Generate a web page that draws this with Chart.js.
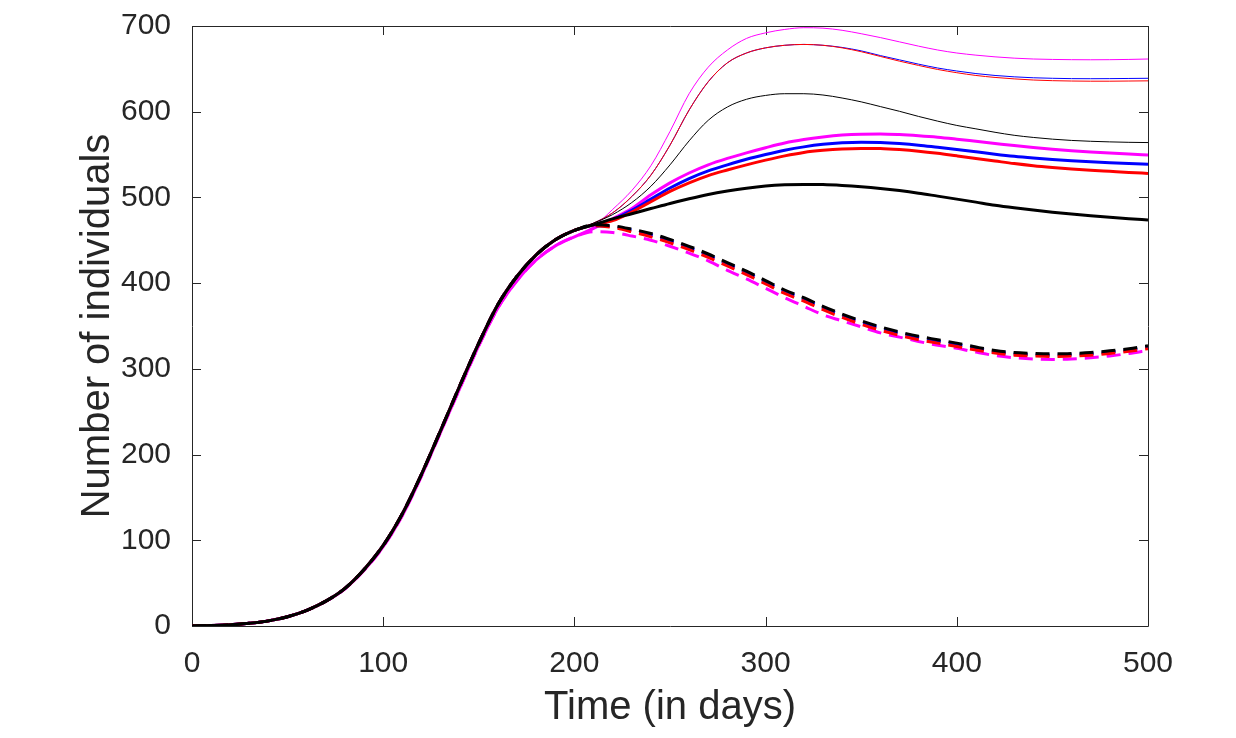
<!DOCTYPE html>
<html>
<head>
<meta charset="utf-8">
<script src="https://cdn.jsdelivr.net/npm/chart.js@4.4.1/dist/chart.umd.min.js"></script>
<style>
	html, body { margin: 0; padding: 0; background: #ffffff; }
	#wrap { width: 1236px; height: 738px; position: relative; }
</style>
</head>
<body>
<div id="wrap"><canvas id="population"></canvas></div>
<script>
// time axis, one point every 10 days
const days = [
	0, 10, 20, 30, 40, 50, 60, 70, 80, 90, 100, 110, 120, 130, 140, 150, 160, 170, 180, 190, 200,
	210, 220, 230, 240, 250, 260, 270, 280, 290, 300, 310, 320, 330, 340, 350, 360, 370, 380, 390, 400,
	410, 420, 430, 440, 450, 460, 470, 480, 490, 500,
];
const xTicks = [0, 100, 200, 300, 400, 500];
const yTicks = [0, 100, 200, 300, 400, 500, 600, 700];

// shared growth phase, days 0-200
const growth = [0, 0.5, 1.4, 3.1, 6, 10.8, 18.3, 29, 44, 66, 94, 131, 177, 228, 280, 330, 375, 408, 433, 450.5, 461.5];
const growthMagenta = [0, 0.5, 1.4, 3.1, 6, 10.8, 18.3, 28.8, 43.5, 65, 92.5, 129, 175, 226, 277, 327, 371, 403, 427, 443.5, 454];

// days 210-500
const thickBlack = [468, 475, 481, 487, 493, 498.5, 503.5, 507.5, 510.8, 513.3, 514.7, 515.2, 515, 514, 512.5, 510.5, 508, 505, 501.5, 498, 494.5, 491, 488, 485.3, 482.8, 480.6, 478.6, 476.8, 475.2, 473.8];
const thickRed = [468, 473, 483, 495, 507, 517, 525.5, 532, 538, 543.5, 548.5, 552.5, 555, 556.6, 557.2, 557, 555.8, 554, 551.5, 548.5, 545.5, 542.5, 539.5, 537, 535, 533.3, 531.8, 530.5, 529.2, 528];
const thickBlue = [468, 474, 485, 498, 511, 522, 531, 538, 544.5, 550, 555, 559, 562, 563.8, 564.5, 564, 562.8, 561, 558.5, 556, 553.3, 550.5, 548, 546, 544.3, 542.8, 541.5, 540.4, 539.5, 538.7];
const thickMagenta = [464, 475, 487, 503, 517, 528.5, 538, 545.5, 552, 558, 563.5, 567.5, 570.5, 572.7, 573.8, 574, 573.3, 572, 570.3, 568, 565.5, 563, 560.5, 558.2, 556.2, 554.5, 553, 551.7, 550.6, 549.6];

const thinBlack = [470, 480, 494, 513, 538, 566, 590, 605.5, 614.5, 619, 621, 621, 619.5, 616, 611.5, 606, 600.5, 594.5, 589, 584, 580, 576, 572.5, 570, 568, 566.5, 565.5, 564.8, 564.3, 564];
const thinRed = [470, 482, 501, 526, 561, 602, 635, 657, 668.5, 674.5, 677.5, 678.5, 677.5, 674.5, 670, 664.5, 659, 654, 649.3, 645.5, 642.3, 640, 638.3, 637, 636.2, 635.8, 635.6, 635.6, 635.8, 636];
const thinBlue = [470, 482, 501, 526, 561, 602, 635, 657, 668.5, 674.5, 677.5, 678.5, 677.5, 675, 671, 665.5, 660.5, 655.5, 651, 647.5, 644.5, 642.3, 640.7, 639.6, 639, 638.6, 638.5, 638.6, 638.8, 639];
const thinMagenta = [466, 486, 508, 537, 577, 621, 652, 672, 685.5, 692, 696, 698, 697.5, 695, 691, 686.5, 681.5, 676.5, 672, 668.5, 666, 664, 662.5, 661.5, 661, 660.7, 660.6, 660.7, 661, 661.5];

const dashBlack = [468, 467, 463, 458, 451, 443, 434, 424, 414, 403, 392, 383, 373, 364, 356, 349, 343, 338, 334, 330, 325.5, 321.5, 319, 318, 317.5, 318, 319, 321, 323.5, 327];
const dashBlue = [467, 466, 462, 456.5, 449.5, 441.5, 432.5, 422.5, 412.5, 401.5, 390.5, 381.5, 371.5, 362.5, 354.5, 347.5, 341.5, 336.5, 332.5, 328.5, 324, 320, 317.5, 316.5, 316, 316.5, 317.5, 319.5, 322, 325.5];
const dashRed = [467, 465, 460, 454, 447, 439, 430, 420, 410, 399, 388, 379, 369, 360, 352, 345, 339, 334, 330, 326, 322, 318.5, 316, 315, 314.5, 315, 316, 318, 320.5, 323.5];
const dashMagenta = [460, 459, 455, 450, 443, 435, 426, 415, 405, 394, 383, 373, 363, 356, 349, 342, 337, 332, 327.5, 324, 319.5, 315.5, 313, 311.5, 311, 311.5, 313, 315, 318, 321.5];

function points(head, tail) {
	return head.concat(tail).map((v, i) => ({ x: days[i], y: v }));
}

function line(head, tail, color, width, dash) {
	return {
		data: points(head, tail),
		borderColor: color,
		borderWidth: width,
		borderDash: dash || [],
		pointRadius: 0,
		fill: false,
		cubicInterpolationMode: 'monotone',
	};
}

const axisColor = '#262626';
const fontFamily = '"Liberation Sans", Arial, Helvetica, sans-serif';

// box round the plot with MATLAB style inward ticks
const boxTicks = {
	id: 'boxTicks',
	beforeDatasetsDraw(chart) {
		const { ctx, chartArea: a, scales } = chart;
		const len = 9;
		ctx.save();
		ctx.strokeStyle = axisColor;
		ctx.lineWidth = 1;
		ctx.beginPath();
		ctx.rect(a.left + 0.5, a.top + 0.5, a.right - a.left, a.bottom - a.top);
		xTicks.forEach((t) => {
			const px = Math.round(scales.x.getPixelForValue(t)) + 0.5;
			ctx.moveTo(px, a.bottom);
			ctx.lineTo(px, a.bottom - len);
			ctx.moveTo(px, a.top);
			ctx.lineTo(px, a.top + len);
		});
		yTicks.forEach((t) => {
			const py = Math.round(scales.y.getPixelForValue(t)) + 0.5;
			ctx.moveTo(a.left, py);
			ctx.lineTo(a.left + len, py);
			ctx.moveTo(a.right, py);
			ctx.lineTo(a.right - len, py);
		});
		ctx.stroke();
		ctx.restore();
	},
};

new Chart(document.getElementById('population'), {
	type: 'line',
	data: {
		datasets: [
			line(growth, thickBlack, '#000000', 3),
			line(growth, dashBlack, '#000000', 3, [14, 8]),
			line(growth, thinBlack, '#000000', 1),
			line(growth, thickRed, '#ff0000', 3),
			line(growth, dashRed, '#ff0000', 3, [14, 8]),
			line(growth, thinRed, '#ff0000', 1),
			line(growth, thickBlue, '#0000ff', 3),
			line(growth, dashBlue, '#0000ff', 3, [14, 8]),
			line(growth, thinBlue, '#0000ff', 1),
			line(growthMagenta, thickMagenta, '#ff00ff', 3),
			line(growthMagenta, dashMagenta, '#ff00ff', 3, [14, 8]),
			line(growthMagenta, thinMagenta, '#ff00ff', 1),
		],
	},
	options: {
		responsive: true,
		maintainAspectRatio: false,
		animation: false,
		layout: { padding: { top: 26, right: 88, left: 0, bottom: 0 } },
		plugins: {
			legend: { display: false },
			tooltip: { enabled: false },
		},
		scales: {
			x: {
				type: 'linear',
				min: 0,
				max: 500,
				afterFit: (scale) => {
					scale.height = 112;
					scale.paddingLeft = 0;
					scale.paddingRight = 0;
				},
				afterBuildTicks: (scale) => { scale.ticks = xTicks.map((v) => ({ value: v })); },
				grid: { display: false },
				border: { display: false },
				ticks: {
					color: axisColor,
					padding: 12,
					maxRotation: 0,
					font: { family: fontFamily, size: 30 },
				},
				title: {
					display: true,
					text: 'Time (in days)',
					color: axisColor,
					padding: { top: 0, bottom: 6 },
					font: { family: fontFamily, size: 40 },
				},
			},
			y: {
				min: 0,
				max: 700,
				afterFit: (scale) => {
					scale.width = 192;
					scale.paddingTop = 0;
					scale.paddingBottom = 0;
				},
				afterBuildTicks: (scale) => { scale.ticks = yTicks.map((v) => ({ value: v })); },
				grid: { display: false },
				border: { display: false },
				ticks: {
					color: axisColor,
					padding: 13,
					font: { family: fontFamily, size: 30 },
				},
				title: {
					display: true,
					text: 'Number of individuals',
					color: axisColor,
					padding: { top: 74, bottom: 0 },
					font: { family: fontFamily, size: 40 },
				},
			},
		},
	},
	plugins: [boxTicks],
});
</script>
</body>
</html>
